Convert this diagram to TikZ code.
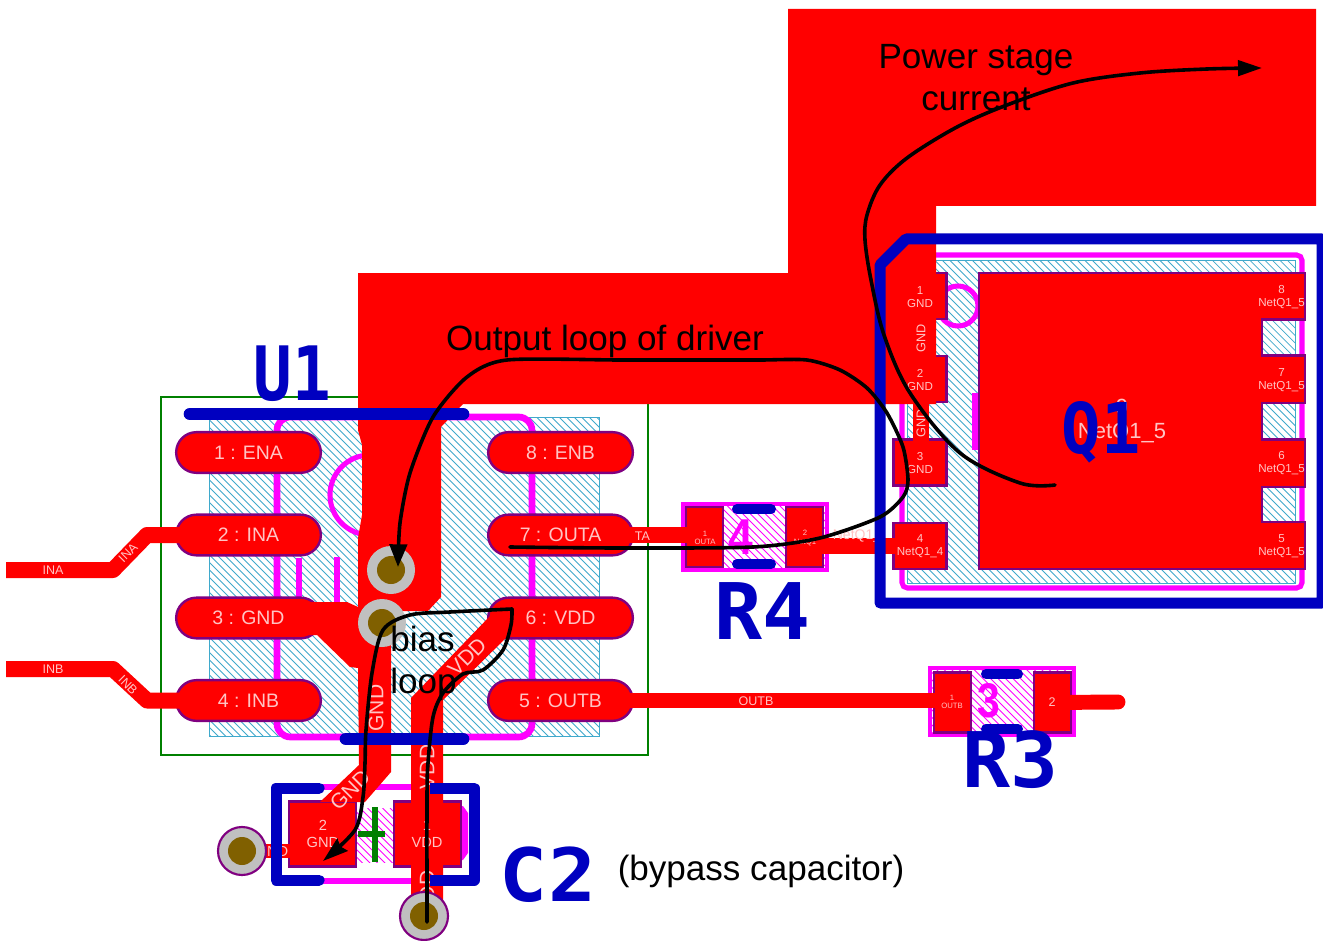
\documentclass[tikz,border=0pt]{standalone}
\usepackage{fontspec}
\usepackage{graphicx}
\setmainfont{Liberation Sans}
\newfontfamily\silkfont{DejaVu Sans Mono}
\usetikzlibrary{arrows.meta}
\definecolor{pcbred}{HTML}{FF0000}
\definecolor{pcbpurple}{HTML}{800080}
\definecolor{pcbmag}{HTML}{FF00FF}
\definecolor{pcbblue}{HTML}{0000C0}
\definecolor{pcbgreen}{HTML}{008000}
\definecolor{pcbcyan}{HTML}{3FA9CC}
\definecolor{viagray}{HTML}{C0C0C0}
\definecolor{viacore}{HTML}{806000}
\definecolor{pcbtext}{HTML}{FFC4C4}
\pgfdeclarelayer{boardlayer}
\pgfdeclarelayer{padlayer}
\pgfdeclarelayer{tracklayer}
\pgfsetlayers{boardlayer,padlayer,tracklayer,main}
\newcommand{\fz}[1]{\fontsize{#1}{#1}\selectfont}
% x0 y0 x1 y1 colour
\newcommand{\hatchbox}[5]{%
  \begin{scope}
    \clip (#1,#2) rectangle (#3,#4);
    \foreach \k in {-400,-392.5,...,520}
      \draw[#5,line width=0.55pt] ({#1+\k},#2) -- ({#1+\k+400},{#2+400});
  \end{scope}}
\newcommand{\bigname}[3]{\resizebox{#1}{#2}{\silkfont\bfseries #3}}
\newcommand{\markname}[3]{\resizebox{#1}{#2}{\bfseries #3}}
\tikzset{
  upad/.style={draw=pcbpurple,fill=pcbred,line width=1.8pt,minimum width=108.5pt,minimum height=30.5pt,rounded corners=15.2pt,inner sep=0pt},
  rectpad/.style={draw=pcbpurple,fill=pcbred,line width=1.8pt,inner sep=0pt},
  qpad/.style={rectpad,minimum width=39.5pt,minimum height=34.5pt},
  rpad/.style={rectpad,minimum width=28pt,minimum height=45pt},
  cpad/.style={rectpad,minimum width=50.5pt,minimum height=48.5pt},
  padtext/.style={text=pcbtext,inner sep=0pt,align=center},
  ulabel/.style={padtext,font=\fz{14.6}},
  qlabel/.style={padtext,font=\fontsize{8.7}{9.4}\selectfont},
  clabel/.style={padtext,font=\fontsize{11}{12.6}\selectfont},
  tinylabel/.style={padtext,font=\fontsize{5.8}{6.2}\selectfont},
  tracklabel/.style={padtext,font=\fz{9.4}},
  planelabel/.style={padtext,font=\fz{15.8}},
  track/.style={draw=pcbred,line width=12pt,line join=round},
  copper/.style={fill=pcbred},
  silk/.style={draw=pcbblue,line width=8.25pt,line join=round},
  silkbar/.style={draw=pcbblue,line width=9.5pt,line cap=round},
  silkshort/.style={draw=pcbblue,line width=7.5pt,line cap=round},
  via/.style={circle,fill=viagray,minimum size=36pt,inner sep=0pt},
  viaedge/.style={via,draw=pcbpurple,line width=1.6pt},
  viahole/.style={circle,fill=viacore,minimum size=21pt,inner sep=0pt},
  loopcurve/.style={draw=black,line width=2.7pt,line cap=round},
  note/.style={text=black,inner sep=0pt,align=center,font=\fontsize{26.3}{31.5}\selectfont},
  silkname/.style={text=pcbblue,inner sep=0pt},
  refmark/.style={text=pcbmag,inner sep=0pt}
}
\begin{document}
\begin{tikzpicture}[x=0.75pt,y=-0.75pt]
\useasboundingbox (0,0) rectangle (1323,941);
\clip (0,0) rectangle (1323,941);

%---------------- board outlines, hatching, assembly marks
\begin{pgfonlayer}{boardlayer}
  \fill[white] (0,0) rectangle (1323,941);
  \hatchbox{209}{417}{599}{736}{pcbcyan}
  \draw[pcbcyan,line width=0.7pt] (209,417) rectangle (599,736);
  \draw[pcbgreen,line width=2.2pt] (161,397) rectangle (648,755);
  \draw[pcbmag,line width=5pt,rounded corners=10pt] (277,417) -- (532,417) -- (532,737) -- (277,737) -- cycle;
  \draw[pcbmag,line width=3.8pt] (370,495) circle[radius=40];
  \draw[pcbmag,line width=4.5pt] (299,558) -- (299,597);
  \draw[pcbmag,line width=4.5pt] (337,557) -- (337,602);
  \hatchbox{907}{260}{1295}{583}{pcbcyan}
  \draw[pcbcyan,line width=0.7pt] (907,260) rectangle (1295,583);
  \draw[pcbmag,line width=3.8pt,rounded corners=4pt] (902,255) rectangle (1302,588);
  \draw[pcbmag,line width=3.8pt] (958,306) circle[radius=20];
  \draw[pcbmag,line width=4.5pt] (975,393) -- (975,450);
  \hatchbox{683}{504}{827}{570}{pcbmag}
  \draw[pcbmag,line width=2.4pt] (683,504) rectangle (827,570);
  \hatchbox{930}{668}{1074}{735}{pcbmag}
  \draw[pcbmag,line width=2.4pt] (930,668) rectangle (1074,735);
  \hatchbox{355}{808}{395}{862}{pcbmag}
  \draw[pcbmag,line width=4.5pt] (322,787) -- (430,787);
  \draw[pcbmag,line width=4.5pt] (322,881) -- (430,881);
  \fill[pcbmag] (458,806) -- (463,806) -- (468,813) -- (468,853) -- (463,860) -- (458,860) -- cycle;
  \draw[pcbgreen,line width=4.5pt] (375,807) -- (375,862);
  \draw[pcbgreen,line width=4.5pt] (358,834) -- (385,834);
\end{pgfonlayer}

%---------------- pads
\begin{pgfonlayer}{padlayer}
  \node[upad] (ua) at (248.5,452.5) {};
  \node[upad] (ub) at (248.5,535) {};
  \node[upad] (uc) at (248.5,618) {};
  \node[upad] (ud) at (248.5,700.5) {};
  \node[upad] (ue) at (560.5,700.5) {};
  \node[upad] (uf) at (560.5,618) {};
  \node[upad] (ug) at (560.5,535) {};
  \node[upad] (uh) at (560.5,452.5) {};
  \node[qpad] (qa) at (920,296) {};
  \node[qpad] (qb) at (920,379) {};
  \node[qpad] (qc) at (920,462.5) {};
  \node[qpad] (qd) at (920,546) {};
  \node[rpad] (rpa) at (704.5,537) {};
  \node[rpad] (rpb) at (804.5,537) {};
  \node[rpad] (rqa) at (952.5,702.5) {};
  \node[rpad] (rqb) at (1052.5,702.5) {};
  \node[cpad] (cb) at (322.5,834) {};
  \node[cpad] (ca) at (427.5,834) {};
  \draw[draw=pcbpurple,fill=pcbred,line width=1.8pt] (979,273) -- (1305,273) -- (1305,319.5) -- (1262,319.5) -- (1262,355.5) -- (1305,355.5) -- (1305,403) -- (1262,403) -- (1262,439.5) -- (1305,439.5) -- (1305,487) -- (1262,487) -- (1262,522) -- (1305,522) -- (1305,569) -- (979,569) -- cycle;
\end{pgfonlayer}

%---------------- copper tracks and planes
\begin{pgfonlayer}{tracklayer}
  \fill[copper] (358,273) -- (788,273) -- (788,9) -- (1316,9) -- (1316,206) -- (936,206) -- (936,404) -- (463,404) -- (441,427) -- (441,597) -- (428,611) -- (400,611) -- (391,640) -- (391,772) -- (365,802) -- (320,802) -- (359,765) -- (358,668) -- (350,667) -- (317,635) -- (300,635) -- (300,602) -- (347,602) -- (358,607) -- (358,538) -- (362,515) -- (362,445) -- (358,430) -- cycle;
  \fill[copper] (913,400) rectangle (929,442);
  \fill[copper] (411,905) -- (411,698) -- (490,616) -- (510,616) -- (510,634) -- (443,700) -- (443,905) -- cycle;
  \coordinate (ina) at (6,570);
  \coordinate (inb) at (6,669);
  \coordinate (outbend) at (1118,702);
  \draw[track] (ina) -- (113,570) -- (147,535) -- (ub.center);
  \draw[track] (inb) -- (113,669) -- (147,700.5) -- (ud.center);
  \draw[track] (ug.center) -- (rpa.center |- ug.center);
  \draw[track] (rpb.center |- qd.center) -- (qd.center);
  \draw[track,line width=11.2pt] (ue.center) -- (rqa.center |- ue.center);
  \draw[track,line width=11.2pt,line cap=round] (rqb.center) -- (outbend);
  \draw[track,line width=11.2pt] (265,851) -- (cb.center |- 0,851);
  \node[tracklabel] (tina) at (53,570) {INA};
  \node[tracklabel] (tinb) at (53,669) {INB};
  \node[tracklabel,rotate=45] (tinc) at (128,553) {INA};
  \node[tracklabel,rotate=-45] (tind) at (128,685) {INB};
  \begin{scope}
    \clip (635,520) rectangle (665,550);
    \node[tracklabel] (touta) at (633,536) {OUTA};
  \end{scope}
  \node[tracklabel] (toutb) at (756,701) {OUTB};
  \node[tracklabel,font=\fz{10.5}] (tnet) at (857,536) {NetQ1\_};
  \node[planelabel,rotate=90] (tgnda) at (376,708) {GND};
  \node[planelabel,rotate=45] (tvdda) at (467,657) {VDD};
  \node[planelabel,rotate=45] (tgndb) at (350,790) {GND};
  \node[planelabel,rotate=90] (tvddb) at (427,767) {VDD};
  \node[planelabel,rotate=90] (tvddc) at (427,893) {VDD};
  \node[clabel] (tgndc) at (272,851) {GND};
  \node[qlabel,font=\fz{9.5},rotate=90] (tgndd) at (921,338) {GND};
  \node[qlabel,font=\fz{9.5},rotate=90] (tgnde) at (921,423) {GND};
\end{pgfonlayer}

%---------------- vias
\node[via] (va) at (391,570) {};
\node[viahole] at (va) {};
\node[via] (vb) at (382,623) {};
\node[viahole] at (vb) {};
\node[viaedge] (vc) at (242,851) {};
\node[viahole] at (vc) {};
\node[viaedge] (vd) at (424,916) {};
\node[viahole] at (vd) {};

%---------------- pad texts
\node[ulabel] (la) at (ua) {1 : ENA};
\node[ulabel] (lb) at (ub) {2 : INA};
\node[ulabel] (lc) at (uc) {3 : GND};
\node[ulabel] (ld) at (ud) {4 : INB};
\node[ulabel] (le) at (ue) {5 : OUTB};
\node[ulabel] (lf) at (uf) {6 : VDD};
\node[ulabel] (lg) at (ug) {7 : OUTA};
\node[ulabel] (lh) at (uh) {8 : ENB};
\node[qlabel] (lqa) at (920,297) {1\\GND};
\node[qlabel] (lqb) at (920,380) {2\\GND};
\node[qlabel] (lqc) at (920,463) {3\\GND};
\node[qlabel] (lqd) at (920,546) {4\\NetQ1\_4};
\node[qlabel] (lqe) at (1281.5,297) {8\\NetQ1\_5};
\node[qlabel] (lqf) at (1281.5,380) {7\\NetQ1\_5};
\node[qlabel] (lqg) at (1281.5,463) {6\\NetQ1\_5};
\node[qlabel] (lqh) at (1281.5,546) {5\\NetQ1\_5};
\node[padtext,font=\fontsize{16.5}{18.7}\selectfont] (lq) at (1122,421) {9\\NetQ1\_5};
\node[tinylabel] (lra) at (705,538) {1\\OUTA};
\node[tinylabel] (lrb) at (805,538) {2\\NetQ1};
\node[tinylabel] (lrc) at (952,702) {1\\OUTB};
\node[padtext,font=\fz{9.4}] (lrd) at (1052,702) {2};
\node[clabel] (lcb) at (323,834) {2\\GND};
\node[clabel] (lca) at (427,834) {1\\VDD};
\node[refmark] (m4) at (741,537) {\markname{18.5pt}{26pt}{4}};
\node[refmark] (m3) at (989,701) {\markname{17pt}{25.5pt}{3}};

%---------------- silkscreen
\draw[silkbar] (190,414) -- (463,414);
\draw[silkbar] (346,739) -- (463,739);
\draw[silk] (906,239) -- (1322,239) -- (1322,603) -- (880,603) -- (880,265) -- cycle;
\draw[silkshort] (737,509) -- (771,509);
\draw[silkshort] (737,564) -- (771,564);
\draw[silkshort] (986,674) -- (1018,674);
\draw[silkshort] (986,729) -- (1018,729);
\draw[silk] (319,788) -- (276,788) -- (276,880) -- (319,880);
\draw[silk] (430,788) -- (474,788) -- (474,880) -- (430,880);
\draw[pcbblue,line width=8.25pt,line cap=round] (319,788) -- (319.1,788);
\draw[pcbblue,line width=8.25pt,line cap=round] (319,880) -- (319.1,880);
\node[silkname] (nu) at (292,374) {\bigname{58pt}{41pt}{U1}};
\node[silkname] (nq) at (1101,432) {\bigname{59pt}{39pt}{Q1}};
\node[silkname] (nr) at (762,611.5) {\bigname{72pt}{42.7pt}{R4}};
\node[silkname] (ns) at (1010,760) {\bigname{72pt}{42.7pt}{R3}};
\node[silkname] (nc) at (548,875) {\bigname{72pt}{41pt}{C2}};

%---------------- annotation curves
\coordinate (powerstart) at (1055,485);
\coordinate (powerend) at (1262,68);
\draw[loopcurve,-{Triangle[length=18pt,width=11.5pt]}] plot[smooth,tension=0.55] coordinates {(powerstart) (1020,483) (960,453) (910,393) (884,335) (871,280) (865,240) (867,215) (880,185) (907,158) (957,127) (1007,105) (1073,83) (1140,73) (1207,69) (powerend)};

\coordinate (outstart) at (510,547);
\coordinate (outend) at (398,567);
\draw[loopcurve,-{Triangle[length=17pt,width=13pt]}] plot[smooth,tension=0.45] coordinates {(outstart) (620,548) (753,547) (820,538) (880,517) (903,497) (908,480) (903,447) (887,413) (867,388) (840,370) (807,360) (760,360) (700,360) (620,360) (507,360) (467,377) (433,417) (410,473) (400,523) (outend)};

\coordinate (biasstart) at (427,922);
\coordinate (biascorner) at (512,609);
\coordinate (biasend) at (323,861);
\draw[loopcurve] plot[smooth,tension=0.5] coordinates {(biasstart) (427,797) (428,763) (433,717) (443,693) (463,674) (483,670) (503,650) (511,625) (biascorner)};
\draw[loopcurve,-{Stealth[length=19pt,width=12pt,inset=2pt]}] plot[smooth,tension=0.5] coordinates {(biascorner) (450,612) (410,615) (383,630) (372,673) (366,730) (365,763) (363,797) (355,830) (biasend)};

%---------------- annotations
\node[note] (npower) at (976,78) {Power stage\\current};
\node[note] (noutput) at (605,341) {Output loop of driver};
\node[note,align=left,anchor=west] (nbias) at (390,663) {bias\\loop};
\node[note] (nbypass) at (761,871) {(bypass capacitor)};
\end{tikzpicture}
\end{document}
